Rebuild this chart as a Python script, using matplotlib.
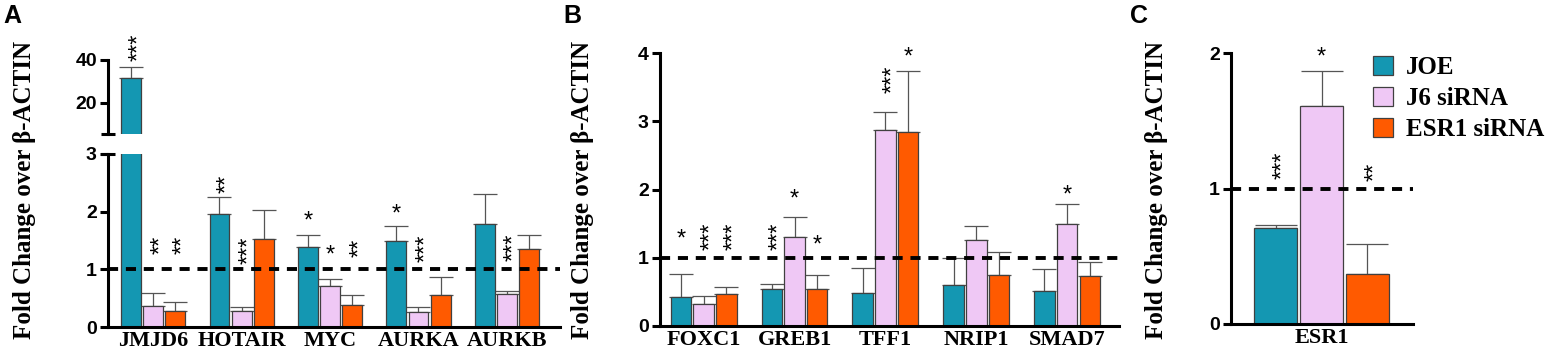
import matplotlib.pyplot as plt
import numpy as np

plt.rcParams['font.family'] = ['Liberation Sans', 'DejaVu Sans']
SERIF = ['Liberation Serif', 'DejaVu Serif']

groups = ['JOE', 'J6 siRNA', 'ESR1 siRNA']
colors = ['#1497B2', '#EFC8F5', '#FF5A00']

# panel A
genes_a = ['JMJD6', 'HOTAIR', 'MYC', 'AURKA', 'AURKB']
mean_a = [[31.6, 1.96, 1.38, 1.50, 1.78],
          [0.36, 0.27, 0.71, 0.26, 0.58],
          [0.27, 1.53, 0.39, 0.56, 1.35]]
err_a = [[5.1, 0.29, 0.22, 0.25, 0.53],
         [0.23, 0.08, 0.13, 0.09, 0.04],
         [0.16, 0.50, 0.16, 0.30, 0.24]]
stars_a = [['***', '**', '*', '*', ''],
           ['**', '***', '*', '***', '***'],
           ['**', '', '**', '', '']]
stars_a_y = [[46, 2.48, 1.97, 2.08, 0],
             [1.42, 1.33, 1.37, 1.37, 1.39],
             [1.42, 0, 1.37, 0, 0]]

# panel B
genes_b = ['FOXC1', 'GREB1', 'TFF1', 'NRIP1', 'SMAD7']
mean_b = [[0.43, 0.54, 0.48, 0.60, 0.51],
          [0.32, 1.30, 2.87, 1.26, 1.50],
          [0.47, 0.54, 2.84, 0.75, 0.73]]
err_b = [[0.33, 0.07, 0.37, 0.40, 0.32],
         [0.12, 0.29, 0.26, 0.21, 0.29],
         [0.10, 0.20, 0.89, 0.33, 0.21]]
stars_b = [['*', '***', '', '', ''],
           ['***', '*', '***', '', '*'],
           ['***', '*', '*', '', '']]
stars_b_y = [[1.38, 1.31, 0, 0, 0],
             [1.31, 1.97, 3.61, 0, 2.02],
             [1.31, 1.29, 4.05, 0, 0]]

# panel C
genes_c = ['ESR1']
mean_c = [0.71, 1.61, 0.37]
err_c = [0.02, 0.26, 0.22]
stars_c = ['***', '*', '**']
stars_c_y = [1.17, 2.02, 1.12]

W, H = 1549, 351
fig = plt.figure(figsize=(W / 100, H / 100), dpi=100)

def box(l, r, top, bot):
    return [l / W, (H - bot) / H, (r - l) / W, (bot - top) / H]

SPW = 2.2
STAR_FS = 17

def style(ax, ylim, yticks, ylabels=None):
    for s in ['top', 'right']:
        ax.spines[s].set_visible(False)
    for s in ['left', 'bottom']:
        ax.spines[s].set_linewidth(SPW)
    ax.set_ylim(*ylim)
    ax.set_yticks(yticks)
    if ylabels is not None:
        ax.set_yticklabels(ylabels)
    ax.tick_params(axis='y', length=6, width=SPW, labelsize=14, pad=2)
    ax.tick_params(axis='x', length=0, pad=3)
    for t in ax.get_yticklabels():
        t.set_fontweight('bold')

def stub(ax, yfrac):
    # short cross bar on the spine end (axis break mark)
    ax.plot([0], [yfrac], transform=ax.transAxes, marker='_', ms=10, mew=SPW,
            color='black', clip_on=False, zorder=7)

def star(ax, x, y, lab):
    if not lab:
        return
    off = 0.58 * STAR_FS
    if lab == '*':
        rot, dx, dy = 0, 0, -off
    else:
        rot, dx, dy = 90, off, 0
    ax.annotate(lab, (x, y), xytext=(dx, dy), textcoords='offset points',
                ha='center', va='baseline', rotation=rot, rotation_mode='anchor',
                fontsize=STAR_FS, annotation_clip=False, zorder=6)

def bars(ax, x, means, errs, width, capsize):
    for i in range(3):
        xs = x + (i - 1) * 0.25
        m = np.array(means[i], dtype=float)
        e = np.array(errs[i], dtype=float)
        ax.bar(xs, m, width, color=colors[i], edgecolor='#404040', linewidth=0.9, zorder=2)
        ax.errorbar(xs, m, yerr=[np.zeros_like(e), e], fmt='none', ecolor='#555555',
                    elinewidth=0.9, capsize=capsize, capthick=0.9, zorder=1)

def dashed(ax):
    ax.axhline(1, color='black', lw=2.8, dashes=(2.6, 2.0), zorder=5)

# ---- Panel A (broken axis)
xa = np.arange(len(genes_a))
ax_a = fig.add_axes(box(108, 560, 154, 327))
ax_a_top = fig.add_axes(box(108, 560, 60, 134))
for ax in (ax_a, ax_a_top):
    bars(ax, xa, mean_a, err_a, 0.225, 8.5)
    ax.set_xlim(-0.51, 4.6)
style(ax_a, (0, 3), [0, 1, 2, 3])
dashed(ax_a)
stub(ax_a, 1.0)
ax_a.set_xticks(xa)
ax_a.set_xticklabels(genes_a, family=SERIF, fontweight='bold', fontsize=16)
style(ax_a_top, (5.5, 40), [20, 40])
ax_a_top.spines['bottom'].set_visible(False)
ax_a_top.set_xticks([])
stub(ax_a_top, 0.0)
for i in range(3):
    for j, lab in enumerate(stars_a[i]):
        y = stars_a_y[i][j]
        target = ax_a_top if y > 3 else ax_a
        star(target, xa[j] + (i - 1) * 0.25, y, lab)

# ---- Panel B
xb = np.arange(len(genes_b))
ax_b = fig.add_axes(box(660, 1119, 53, 326))
bars(ax_b, xb, mean_b, err_b, 0.225, 8.5)
ax_b.set_xlim(-0.48, 4.57)
style(ax_b, (0, 4), [0, 1, 2, 3, 4])
dashed(ax_b)
ax_b.set_xticks(xb)
ax_b.set_xticklabels(genes_b, family=SERIF, fontweight='bold', fontsize=16)
for i in range(3):
    for j, lab in enumerate(stars_b[i]):
        star(ax_b, xb[j] + (i - 1) * 0.25, stars_b_y[i][j], lab)

# ---- Panel C
ax_c = fig.add_axes(box(1231, 1413, 53, 324))
xc = np.array([-1.0, 0.0, 1.0])
handles = []
for i in range(3):
    b = ax_c.bar(xc[i], mean_c[i], 0.94, color=colors[i], edgecolor='#404040',
                 linewidth=0.9, zorder=2)
    handles.append(b)
    ax_c.errorbar(xc[i], mean_c[i], yerr=[[0], [err_c[i]]], fmt='none', ecolor='#555555',
                  elinewidth=0.9, capsize=15, capthick=0.9, zorder=1)
    star(ax_c, xc[i], stars_c_y[i], stars_c[i])
ax_c.set_xlim(-1.98, 2.0)
style(ax_c, (0, 2), [0, 1, 2])
dashed(ax_c)
ax_c.set_xticks([0])
ax_c.set_xticklabels(genes_c, family=SERIF, fontweight='bold', fontsize=16)

fig.legend(handles, groups, loc='upper left', bbox_to_anchor=(1373 / W, (H - 56) / H),
           frameon=False, prop={'family': SERIF, 'weight': 'bold', 'size': 18},
           handlelength=0.8, handleheight=0.8, handletextpad=0.5,
           labelspacing=0.3, borderpad=0, borderaxespad=0)

# y labels and panel letters
for xpix in (25, 583, 1156):
    fig.text(xpix / W, (H - 190) / H, 'Fold Change over β-ACTIN', rotation=90,
             ha='center', va='center', family=SERIF, fontweight='bold', fontsize=18)
for lab, xpix in (('A', 3), ('B', 563), ('C', 1130)):
    fig.text(xpix / W, (H - 16) / H, lab, ha='left', va='center',
             fontweight='bold', fontsize=18)

fig.savefig('out.png', dpi=100)
